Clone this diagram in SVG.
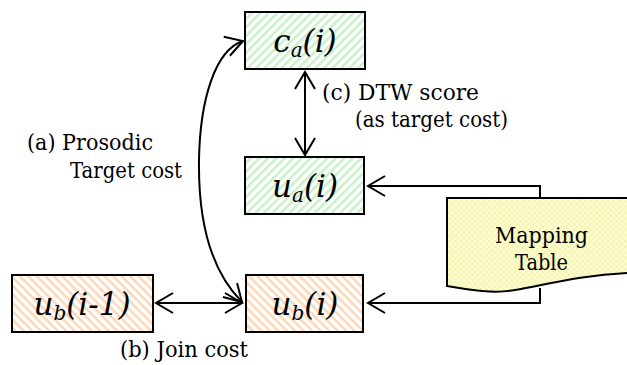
<svg xmlns="http://www.w3.org/2000/svg" width="627" height="365" viewBox="0 0 627 365">
<defs>
<style>
.box{stroke:#000;stroke-width:2}
text{font-family:'DejaVu Serif','Liberation Serif',serif}
.lbl{font-style:italic;font-size:31px;text-anchor:middle}
.sub{font-size:20px}
.txt{font-size:22px;fill:#000}
.ln{fill:none;stroke:#000;stroke-width:2}
</style>
<pattern id="green" patternUnits="userSpaceOnUse" width="6" height="6" patternTransform="rotate(-45)">
<rect width="6" height="6" fill="#fff"/>
<rect width="6" height="2.5" fill="#c9f0c9"/>
</pattern>
<pattern id="orange" patternUnits="userSpaceOnUse" width="6" height="6" patternTransform="rotate(45)">
<rect width="6" height="6" fill="#fff"/>
<rect width="6" height="2.5" fill="#fcd6b6"/>
</pattern>
<pattern id="yellow" patternUnits="userSpaceOnUse" width="4" height="4" patternTransform="rotate(45)">
<rect width="4" height="4" fill="#ffffd0"/>
<rect width="4" height="1" fill="#f2f2b4"/>
<rect width="1" height="4" fill="#f2f2b4"/>
</pattern>
<marker id="ah" markerUnits="userSpaceOnUse" markerWidth="20" markerHeight="22" refX="17" refY="10" orient="auto-start-reverse" overflow="visible">
<path d="M0,0 L17,10 L0,20" fill="none" stroke="#000" stroke-width="2"/>
</marker>
</defs>
<rect width="627" height="365" fill="#fff"/>

<g id="connectors">
<path class="ln" d="M243,41 C215,50 200,100 199,160 C198,230 215,275 242,302" marker-start="url(#ah)" marker-end="url(#ah)"/>
<path class="ln" d="M156,303 H242" marker-start="url(#ah)" marker-end="url(#ah)"/>
<path class="ln" d="M305,72 V155" marker-start="url(#ah)" marker-end="url(#ah)"/>
<path class="ln" d="M540,198 V186 H368" marker-end="url(#ah)"/>
<path class="ln" d="M540,288 V303 H368" marker-end="url(#ah)"/>
</g>

<g id="ca">
<rect class="box" x="245" y="12" width="120" height="57" fill="url(#green)"/>
<text class="lbl" x="305" y="52">c<tspan class="sub" dy="5">a</tspan><tspan dy="-5">(i)</tspan></text>
</g>
<g id="ua">
<rect class="box" x="245" y="157" width="119" height="57" fill="url(#green)"/>
<text class="lbl" x="305" y="197">u<tspan class="sub" dy="5">a</tspan><tspan dy="-5">(i)</tspan></text>
</g>
<g id="ubprev">
<rect class="box" x="12" y="275" width="141" height="57" fill="url(#orange)"/>
<text class="lbl" x="82" y="315">u<tspan class="sub" dy="5">b</tspan><tspan dy="-5">(i-1)</tspan></text>
</g>
<g id="ub">
<rect class="box" x="246" y="275" width="117" height="57" fill="url(#orange)"/>
<text class="lbl" x="305" y="315">u<tspan class="sub" dy="5">b</tspan><tspan dy="-5">(i)</tspan></text>
</g>
<g id="table">
<path class="box" d="M447,198 L632,198 L632,273 L627,273 C580,275 545,285 515,290 C495,294 470,290 447,286 Z" fill="url(#yellow)"/>
<text class="txt" x="495" y="243" textLength="93" lengthAdjust="spacingAndGlyphs">Mapping</text>
<text class="txt" x="515" y="270" textLength="53" lengthAdjust="spacingAndGlyphs">Table</text>
</g>

<g id="labels">
<text class="txt" x="27" y="150" textLength="126" lengthAdjust="spacingAndGlyphs">(a) Prosodic</text>
<text class="txt" x="70" y="178" textLength="112" lengthAdjust="spacingAndGlyphs">Target cost</text>
<text class="txt" x="120" y="357" textLength="128" lengthAdjust="spacingAndGlyphs">(b) Join cost</text>
<text class="txt" x="322" y="100" textLength="157" lengthAdjust="spacingAndGlyphs">(c) DTW score</text>
<text class="txt" x="355" y="127" textLength="153" lengthAdjust="spacingAndGlyphs">(as target cost)</text>
</g>
</svg>
